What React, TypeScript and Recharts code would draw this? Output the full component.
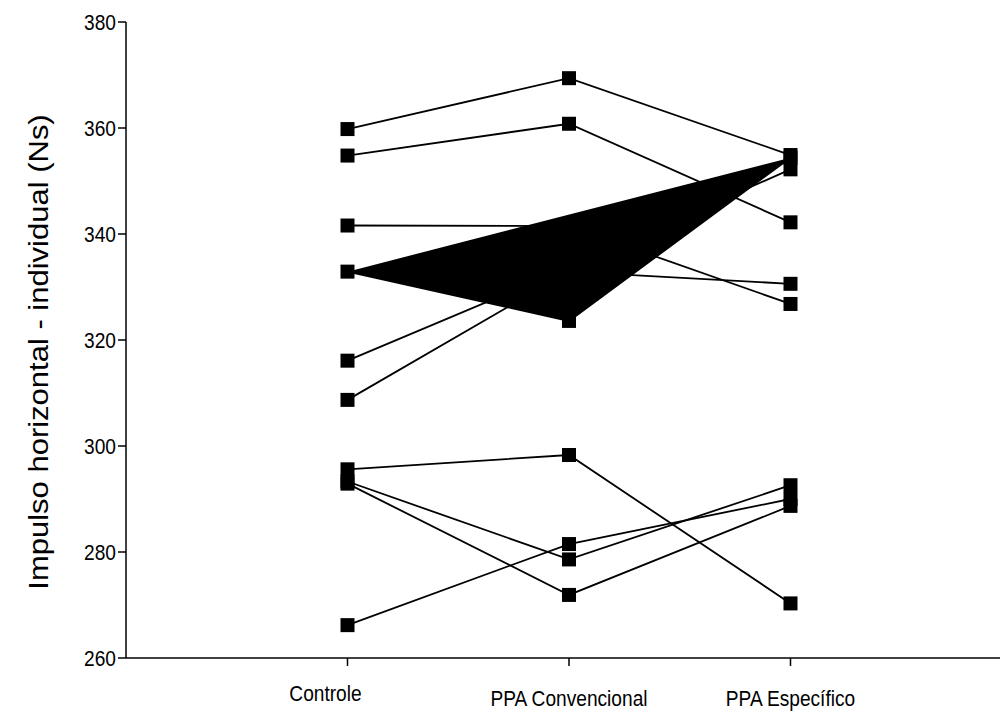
import React from 'react';
import { ComposedChart, Scatter, XAxis, YAxis } from 'recharts';

// Treatment groups shown along the horizontal axis
const groups = ['Controle', 'PPA Convencional', 'PPA Específico'];

// Horizontal impulse (Ns) for each subject, one entry per subject in every group
const controle = [359.8, 354.8, 341.6, 332.9, 316.1, 308.7, 295.6, 293.3, 292.9, 266.2];
const ppaConvencional = [369.4, 360.8, 341.5, 323.6, 333.7, 332.9, 298.3, 278.6, 271.9, 281.5];
const ppaEspecifico = [354.9, 342.2, 326.8, 354.4, 352.2, 330.6, 270.3, 292.6, 288.7, 290.0];

const yTicks = [260, 280, 300, 320, 340, 360, 380];
const xTicks = [1, 2, 3];

// Subject whose profile is drawn as a filled shape
const filledSubject = 3;

const subjects = controle.map((_, i) => ({
  id: i,
  points: [
    { x: 1, y: controle[i] },
    { x: 2, y: ppaConvencional[i] },
    { x: 3, y: ppaEspecifico[i] },
  ],
}));

const FONT = '"Liberation Sans", Arial, Helvetica, sans-serif';
// Text is drawn slightly narrowed horizontally
const NARROW = 0.87;

const SquareMarker = (props: any) => {
  const { cx, cy } = props;
  if (cx == null || cy == null) return null;
  return <rect x={cx - 7} y={cy - 7} width={14} height={14} fill="#000" />;
};

const YTick = (props: any) => {
  const { x, y, payload } = props;
  return (
    <text
      transform={`translate(${x}, ${y}) scale(${NARROW}, 1)`}
      dy="0.35em"
      textAnchor="end"
      fontFamily={FONT}
      fontSize={22}
      fill="#000"
    >
      {payload.value}
    </text>
  );
};

const XTick = (props: any) => {
  const { x, y, payload } = props;
  // the first group label sits a little left of and above its tick
  const first = payload.value === 1;
  const tx = first ? x - 22 : x;
  const ty = first ? y + 25 : y + 30;
  return (
    <text
      transform={`translate(${tx}, ${ty}) scale(${NARROW}, 1)`}
      dy="0.35em"
      textAnchor="middle"
      fontFamily={FONT}
      fontSize={22}
      fill="#000"
    >
      {groups[payload.value - 1]}
    </text>
  );
};

const YTitle = (props: any) => {
  const { viewBox } = props;
  const cx = 39;
  const cy = viewBox.y + viewBox.height / 2 + 12;
  return (
    <text
      transform={`translate(${cx}, ${cy}) scale(${NARROW}, 1) rotate(-90)`}
      textAnchor="middle"
      dominantBaseline="central"
      fontFamily={FONT}
      fontSize={31}
      fill="#000"
    >
      Impulso horizontal  - individual (Ns)
    </text>
  );
};

export default function App() {
  const ordered = [
    ...subjects.filter((s) => s.id !== filledSubject),
    ...subjects.filter((s) => s.id === filledSubject),
  ];
  return (
    <div
      style={{
        position: 'absolute',
        left: 0,
        top: 0,
        width: 1000,
        height: 718,
        overflow: 'hidden',
        background: '#fff',
      }}
    >
      <ComposedChart width={1012} height={718} margin={{ top: 22, right: 0, bottom: 0, left: 0 }}>
        <XAxis
          type="number"
          dataKey="x"
          domain={[0, 4]}
          ticks={xTicks}
          interval={0}
          tickSize={8}
          tick={<XTick />}
          height={60}
          stroke="#000"
          strokeWidth={1.5}
          allowDataOverflow
        />
        <YAxis
          type="number"
          dataKey="y"
          domain={[260, 380]}
          ticks={yTicks}
          interval={0}
          tickSize={8}
          tick={<YTick />}
          width={126}
          stroke="#000"
          strokeWidth={1.5}
          allowDataOverflow
          label={(p: any) => <YTitle {...p} />}
        />
        {ordered.map((s) => (
          <Scatter
            key={s.id}
            data={s.points}
            line={
              s.id === filledSubject
                ? { stroke: '#000', strokeWidth: 1.8, fill: '#000' }
                : { stroke: '#000', strokeWidth: 1.8 }
            }
            lineType="joint"
            shape={<SquareMarker />}
            fill="#000"
            isAnimationActive={false}
          />
        ))}
      </ComposedChart>
    </div>
  );
}
